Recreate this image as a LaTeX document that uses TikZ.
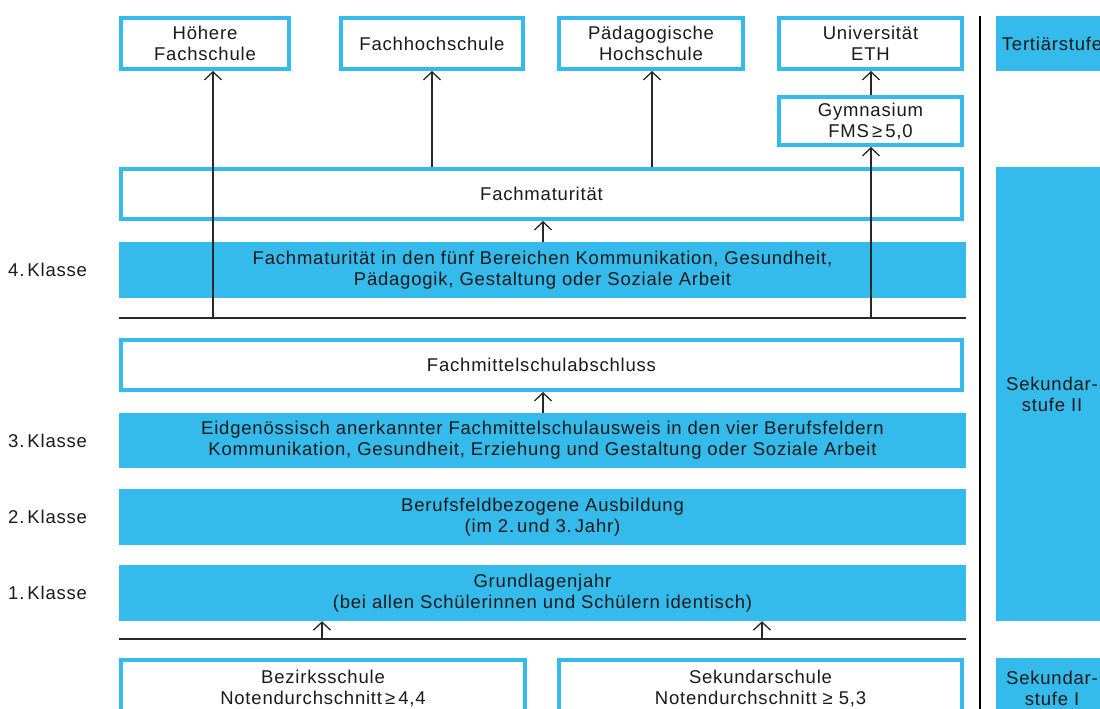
\documentclass[tikz,border=0pt]{standalone}
\usepackage{fontspec}
\setmainfont{Liberation Sans}[LetterSpace=4.3]
\usetikzlibrary{arrows.meta}
\definecolor{cy}{RGB}{52,187,235}
\definecolor{tx}{RGB}{26,26,26}
\definecolor{ln}{RGB}{40,40,40}
\tikzset{
  x=1pt,y=-1pt,
  every node/.style={text=tx,font=\fontsize{18.5}{21}\selectfont,align=center,inner sep=0pt},
  obox/.style={draw=cy,line width=4pt,fill=white},
  fbox/.style={fill=cy},
  arr/.style={draw=ln,line width=1.3pt,-{Straight Barb[length=8pt,width=17pt,line width=1.3pt]}},
  rule/.style={draw=ln,line width=1.5pt},
  lbl/.style={anchor=west}
}
\begin{document}
\begin{tikzpicture}
\useasboundingbox (0,0) rectangle (1100,709);
\clip (0,0) rectangle (1100,709);
% top row
\node[obox,minimum width=168,minimum height=51] (hf) at (205,43.5) {Höhere\\Fachschule};
\node[obox,minimum width=182,minimum height=51] (fh) at (432,43.5) {Fachhochschule};
\node[obox,minimum width=184,minimum height=51] (ph) at (651,43.5) {Pädagogische\\Hochschule};
\node[obox,minimum width=183,minimum height=51] (uni) at (870.5,43.5) {Universität\\ETH};
\node[obox,minimum width=183,minimum height=48] (gym) at (870.5,121) {Gymnasium\\FMS\,≥\,5,0};
% stage labels
\node[fbox,minimum width=112,minimum height=55] (tert) at (1052,43.5) {Tertiärstufe};
\node[fbox,minimum width=112,minimum height=454] (sek2) at (1052,394) {Sekundar-\\stufe II};
\node[fbox,minimum width=112,minimum height=60] (sek1) at (1052,688) {Sekundar-\\stufe I};
% main column
\node[obox,minimum width=841,minimum height=50] (fm) at (541.5,194) {Fachmaturität};
\node[fbox,minimum width=847,minimum height=56] (fm4) at (542.5,270) {Fachmaturität in den fünf Bereichen Kommunikation, Gesundheit,\\Pädagogik, Gestaltung oder Soziale Arbeit};
\node[obox,minimum width=841,minimum height=50] (fms) at (541.5,365) {Fachmittelschulabschluss};
\node[fbox,minimum width=847,minimum height=55] (eidg) at (542.5,440.5) {Eidgenössisch anerkannter Fachmittelschulausweis in den vier Berufsfeldern\\Kommunikation, Gesundheit, Erziehung und Gestaltung oder Soziale Arbeit};
\node[fbox,minimum width=847,minimum height=56] (beruf) at (542.5,517) {Berufsfeldbezogene Ausbildung\\(im 2.\,und 3.\,Jahr)};
\node[fbox,minimum width=847,minimum height=56] (grund) at (542.5,593) {Grundlagenjahr\\(bei allen Schülerinnen und Schülern identisch)};
\node[obox,minimum width=404,minimum height=56] (bez) at (323,688) {Bezirksschule\\Notendurchschnitt\,≥\,4,4};
\node[obox,minimum width=403,minimum height=56] (sek) at (760.5,688) {Sekundarschule\\Notendurchschnitt ≥ 5,3};
% class labels
\node[lbl] (k4) at (8,270) {4.\,Klasse};
\node[lbl] (k3) at (8,441) {3.\,Klasse};
\node[lbl] (k2) at (8,517) {2.\,Klasse};
\node[lbl] (k1) at (8,593) {1.\,Klasse};
% rules
\coordinate (r4a) at (119,318);
\coordinate (r4b) at (966,318);
\coordinate (r1a) at (119,639);
\coordinate (r1b) at (966,639);
\coordinate (va) at (980,16);
\coordinate (vb) at (980,720);
\draw[rule] (r4a) -- (r4b);
\draw[rule] (r1a) -- (r1b);
\draw[draw=black,line width=1.3pt] (va) -- (vb);
% arrows
\coordinate (s1) at (213,318);
\coordinate (s4) at (871,318);
\coordinate (g1) at (322,639);
\coordinate (g2) at (762,639);
\draw[arr] (s1) -- (s1 |- hf.south);
\draw[arr] (fm.north -| fh.south) -- (fh.south);
\draw[arr] (fm.north -| 652,0) -- (652,0 |- ph.south);
\draw[arr] (s4) -- (s4 |- gym.south);
\draw[arr] (gym.north -| 871,0) -- (871,0 |- uni.south);
\draw[arr] (fm4.north -| 543,0) -- (543,0 |- fm.south);
\draw[arr] (eidg.north -| 543,0) -- (543,0 |- fms.south);
\draw[arr] (g1) -- (g1 |- grund.south);
\draw[arr] (g2) -- (g2 |- grund.south);
\end{tikzpicture}
\end{document}
